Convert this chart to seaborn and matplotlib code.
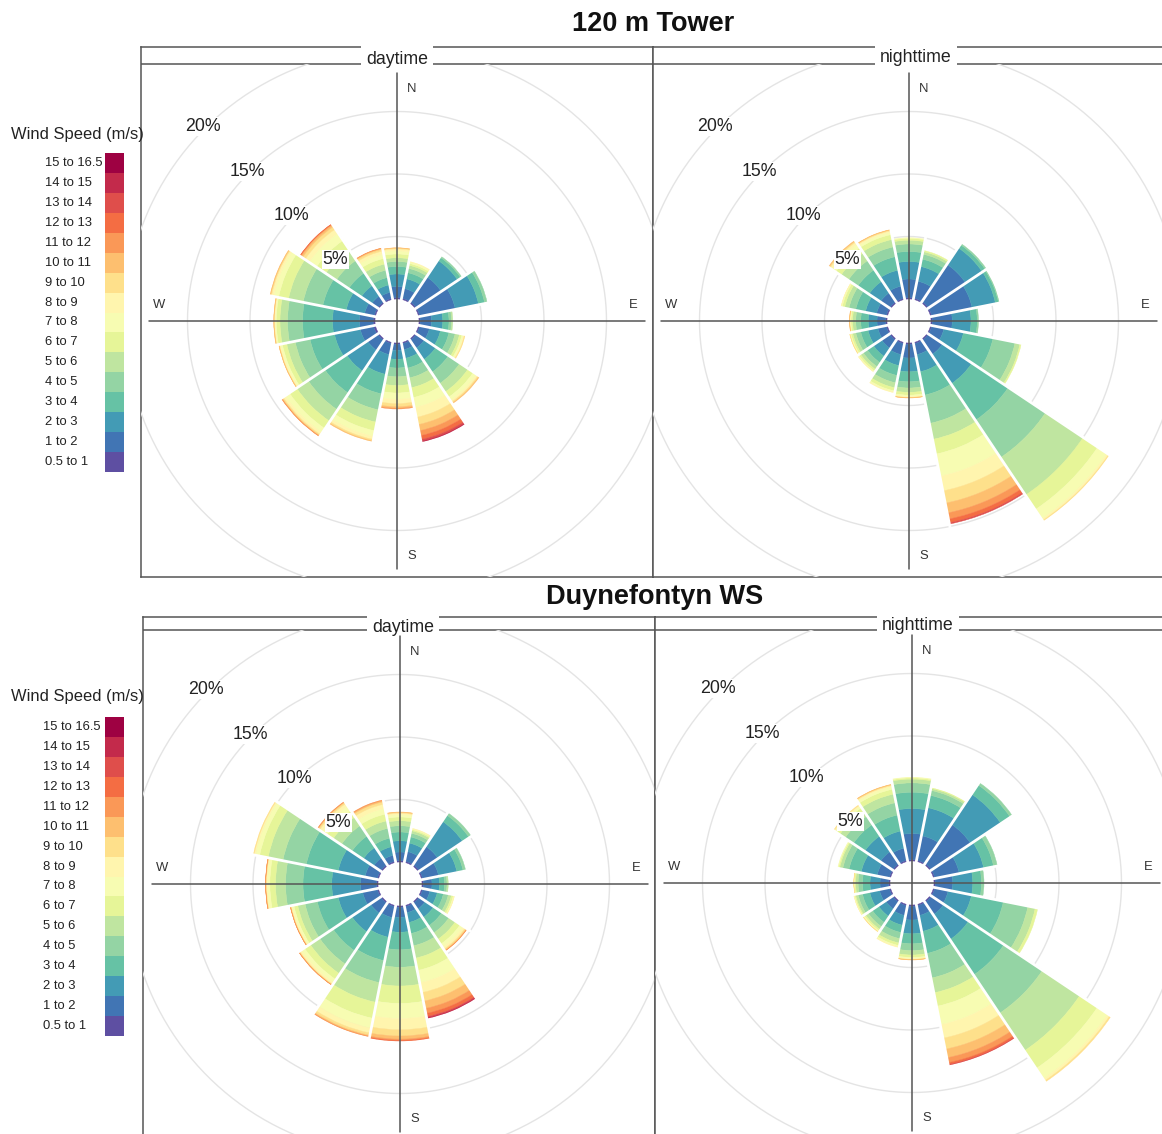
import numpy as np
import pandas as pd
import matplotlib
matplotlib.use("Agg")
import matplotlib.pyplot as plt
import seaborn as sns
from matplotlib import font_manager
from matplotlib.colors import ListedColormap
from matplotlib.patches import Rectangle

# speed classes (legend) and wind directions
speed_bins = ["0.5 to 1", "1 to 2", "2 to 3", "3 to 4", "4 to 5", "5 to 6", "6 to 7",
              "7 to 8", "8 to 9", "9 to 10", "10 to 11", "11 to 12", "12 to 13",
              "13 to 14", "14 to 15", "15 to 16.5"]
directions = ["N", "NNE", "NE", "ENE", "E", "ESE", "SE", "SSE",
              "S", "SSW", "SW", "WSW", "W", "WNW", "NW", "NNW"]

# frequency (%) per direction, per speed class
tower_day = [
    [0.1, 0.9, 1.0, 0.6, 0.4, 0.3, 0.3, 0.25, 0.15, 0.07, 0.03],
    [0.1, 0.8, 0.8, 0.5, 0.35, 0.25, 0.15, 0.1, 0.05],
    [0.1, 2.4, 1.6, 0.3, 0.1],
    [0.1, 2.9, 1.9, 0.5, 0.2],
    [0.1, 0.9, 0.9, 0.5, 0.2, 0.1],
    [0.1, 0.8, 0.9, 0.7, 0.5, 0.35, 0.2, 0.12, 0.08, 0.05],
    [0.1, 0.8, 1.1, 1.2, 1.1, 0.8, 0.5, 0.3, 0.15, 0.1, 0.05],
    [0.1, 0.5, 0.7, 0.8, 0.8, 0.8, 0.8, 0.8, 0.8, 0.6, 0.5, 0.4, 0.3, 0.15, 0.05],
    [0.1, 0.5, 0.7, 0.7, 0.7, 0.7, 0.6, 0.5, 0.35, 0.25, 0.12, 0.06],
    [0.1, 0.9, 1.6, 1.6, 1.3, 1.0, 0.7, 0.45, 0.25, 0.12, 0.05],
    [0.1, 1.0, 2.0, 2.1, 1.6, 1.1, 0.7, 0.4, 0.2, 0.1, 0.05, 0.03],
    [0.15, 1.1, 2.1, 2.0, 1.2, 0.7, 0.35, 0.15, 0.08, 0.04, 0.02],
    [0.15, 1.1, 2.15, 2.4, 1.2, 0.6, 0.3, 0.1, 0.05, 0.03, 0.02],
    [0.1, 0.8, 1.5, 1.9, 1.6, 1.2, 0.8, 0.4, 0.18, 0.08, 0.04],
    [0.1, 0.6, 1.0, 1.2, 1.2, 1.0, 0.9, 0.7, 0.4, 0.25, 0.15, 0.07, 0.03],
    [0.1, 0.5, 0.6, 0.6, 0.6, 0.5, 0.45, 0.35, 0.25, 0.15, 0.07, 0.03],
]
tower_night = [
    [0.1, 1.5, 1.4, 0.8, 0.6, 0.3, 0.15, 0.05],
    [0.1, 1.4, 1.2, 0.6, 0.4, 0.2, 0.1],
    [0.1, 3.6, 1.6, 0.3, 0.1],
    [0.1, 3.3, 1.9, 0.25, 0.05],
    [0.1, 1.6, 1.5, 0.5, 0.1],
    [0.1, 1.0, 1.6, 2.4, 1.8, 0.4, 0.1],
    [0.1, 1.4, 2.8, 3.5, 3.6, 3.6, 1.4, 0.9, 0.15, 0.05],
    [0.1, 0.9, 1.4, 1.9, 2.3, 1.3, 1.2, 1.8, 1.2, 1.0, 0.8, 0.5, 0.3, 0.1],
    [0.1, 1.1, 1.1, 0.8, 0.5, 0.35, 0.22, 0.12, 0.06, 0.03, 0.02],
    [0.1, 0.9, 0.9, 0.8, 0.6, 0.4, 0.25, 0.1, 0.05],
    [0.1, 0.8, 0.8, 0.6, 0.4, 0.25, 0.15, 0.07, 0.03],
    [0.1, 0.7, 0.8, 0.6, 0.4, 0.25, 0.14, 0.06, 0.03, 0.02],
    [0.1, 0.7, 0.7, 0.6, 0.4, 0.25, 0.13, 0.06, 0.03, 0.02, 0.01],
    [0.1, 0.8, 0.9, 0.8, 0.55, 0.35, 0.2, 0.07, 0.03],
    [0.1, 0.9, 1.1, 1.1, 0.9, 0.7, 0.5, 0.35, 0.2, 0.1, 0.05],
    [0.1, 1.0, 1.3, 1.1, 0.8, 0.6, 0.4, 0.2, 0.1, 0.07, 0.03],
]
ws_day = [
    [0.1, 0.7, 0.9, 0.7, 0.5, 0.4, 0.3, 0.2, 0.1, 0.07, 0.03],
    [0.1, 0.8, 0.7, 0.5, 0.3, 0.2, 0.1, 0.05, 0.05],
    [0.1, 1.8, 2.4, 0.6, 0.2],
    [0.1, 1.3, 1.5, 0.5, 0.2],
    [0.1, 0.7, 0.6, 0.4, 0.2, 0.1],
    [0.1, 0.6, 0.6, 0.5, 0.4, 0.25, 0.15, 0.07, 0.03],
    [0.1, 0.6, 0.8, 0.8, 0.7, 0.6, 0.45, 0.3, 0.18, 0.1, 0.05, 0.02],
    [0.1, 0.5, 0.8, 0.9, 1.0, 1.0, 1.0, 1.0, 0.8, 0.7, 0.6, 0.4, 0.25, 0.1, 0.05],
    [0.1, 0.8, 1.2, 1.4, 1.4, 1.5, 1.4, 1.2, 0.9, 0.5, 0.25, 0.1, 0.05],
    [0.1, 0.9, 1.6, 1.9, 1.8, 1.6, 1.3, 0.8, 0.4, 0.18, 0.08, 0.04],
    [0.1, 1.0, 1.8, 1.8, 1.3, 0.9, 0.55, 0.3, 0.15, 0.06, 0.03, 0.01],
    [0.1, 1.2, 2.0, 1.7, 1.0, 0.6, 0.3, 0.15, 0.08, 0.04, 0.02, 0.01],
    [0.1, 1.3, 2.3, 2.3, 1.4, 0.8, 0.45, 0.2, 0.08, 0.04, 0.02, 0.01],
    [0.1, 1.0, 2.2, 2.6, 1.9, 1.2, 0.7, 0.35, 0.1, 0.05],
    [0.1, 0.7, 1.0, 1.1, 1.0, 0.8, 0.6, 0.45, 0.25, 0.12, 0.05, 0.03],
    [0.1, 0.5, 0.7, 0.7, 0.8, 0.6, 0.55, 0.45, 0.35, 0.2, 0.1, 0.05],
]
ws_night = [
    [0.1, 2.1, 2.0, 1.3, 0.75, 0.3, 0.1, 0.05],
    [0.1, 2.0, 2.3, 1.0, 0.4, 0.15, 0.05],
    [0.1, 3.8, 2.9, 0.9, 0.2],
    [0.1, 2.0, 2.0, 0.8, 0.3],
    [0.1, 1.4, 1.6, 0.7, 0.2],
    [0.1, 1.1, 1.9, 2.6, 2.0, 0.6, 0.2],
    [0.1, 1.2, 2.4, 3.4, 3.7, 3.6, 1.7, 1.0, 0.2, 0.1],
    [0.1, 0.8, 1.3, 1.8, 2.0, 1.2, 1.1, 1.5, 1.1, 0.9, 0.7, 0.4, 0.15, 0.05],
    [0.1, 1.1, 1.1, 0.8, 0.55, 0.35, 0.2, 0.1, 0.05, 0.03, 0.02],
    [0.1, 0.8, 0.8, 0.6, 0.5, 0.35, 0.2, 0.1, 0.05],
    [0.1, 0.7, 0.7, 0.6, 0.4, 0.25, 0.13, 0.07, 0.03, 0.02],
    [0.1, 0.8, 0.8, 0.6, 0.35, 0.2, 0.09, 0.04, 0.02],
    [0.1, 0.7, 0.8, 0.6, 0.35, 0.2, 0.1, 0.03, 0.01, 0.01],
    [0.1, 1.0, 1.3, 1.0, 0.5, 0.25, 0.1, 0.05],
    [0.1, 1.2, 1.5, 1.1, 0.8, 0.5, 0.3, 0.15, 0.1, 0.05],
    [0.1, 1.0, 1.4, 1.3, 1.0, 0.7, 0.4, 0.2, 0.1, 0.07, 0.03],
]
grid_pct = [5, 10, 15, 20]

sns.set_style("white")
names = {f.name for f in font_manager.fontManager.ttflist}
narrow = "Liberation Sans Narrow" in names
FONT = "Liberation Sans Narrow" if narrow else "Liberation Sans"
FS = 1.0 if narrow else 0.85   # shrink when no condensed face exists
plt.rcParams["font.family"] = [FONT, "DejaVu Sans"]

# full Spectral ramp, purple -> dark red
spectral = sns.color_palette("Spectral_r", as_cmap=True)
colors = [spectral(x) for x in np.linspace(0, 1, len(speed_bins))]

W, H = 1162, 1134
fig = plt.figure(figsize=(W / 100, H / 100), dpi=100)

PX = 12.5           # pixels per percent
OFFSET = 22 / PX    # size of the hole
R = 420             # polar axes radius, px
LINE = "#555555"


def fig_rect(x0, y0, x1, y1):
    return [x0 / W, 1 - y1 / H, (x1 - x0) / W, (y1 - y0) / H]


def rose(box, strip_y, center, label, label_xy, rows):
    x0, y0, x1, y1 = box
    frame = fig.add_axes(fig_rect(*box))
    frame.set_xlim(x0, x1)
    frame.set_ylim(y1, y0)
    frame.set_xticks([])
    frame.set_yticks([])
    for s in frame.spines.values():
        s.set_color(LINE)
        s.set_linewidth(1.1)
    frame.axhline(strip_y, color=LINE, lw=1.1)
    frame.text(label_xy[0], label_xy[1], label, ha="center", va="center", fontsize=15 * FS,
               color="#222222", bbox=dict(fc="white", ec="none", pad=4))
    clip = Rectangle((x0, strip_y), x1 - x0, y1 - strip_y, transform=frame.transData)

    cx, cy = center
    ax = fig.add_axes(fig_rect(cx - R, cy - R, cx + R, cy + R), projection="polar")
    ax.set_theta_zero_location("N")
    ax.set_theta_direction(-1)
    ax.set_ylim(0, R / PX)
    ax.set_axis_off()

    df = pd.DataFrame([r + [0.0] * (len(speed_bins) - len(r)) for r in rows],
                      index=directions, columns=speed_bins)
    theta = np.deg2rad(np.arange(len(directions)) * 22.5)
    width = np.deg2rad(22.5)
    arts = []

    ring = np.linspace(0, 2 * np.pi, 361)
    for p in grid_pct:
        arts += ax.plot(ring, np.full_like(ring, OFFSET + p), color="#e4e4e4", lw=1.0, zorder=1)

    bottom = np.full(len(directions), OFFSET)
    for j, col in enumerate(speed_bins):
        h = df[col].to_numpy()
        m = h > 0
        if m.any():
            bars = ax.bar(theta[m], h[m], width=width, bottom=bottom[m], color=colors[j],
                          edgecolor=colors[j], linewidth=0.3, zorder=2)
            arts += list(bars)
        bottom = bottom + h

    totals = df.sum(axis=1).to_numpy()
    for k in range(len(directions)):
        reach = max(totals[k], totals[(k + 1) % len(directions)]) + OFFSET + 0.3
        a = theta[k] + width / 2
        arts += ax.plot([a, a], [0, reach], color="white", lw=2.0, zorder=3)

    L = 248 / PX
    for a in [0, np.pi / 2, np.pi, 3 * np.pi / 2]:
        arts += ax.plot([a, a], [0, L], color=LINE, lw=1.1, zorder=4)

    for a in arts:
        a.set_clip_path(clip)

    comp = [("N", 0, 232, (15, 0)), ("S", np.pi, 235, (15, 0)),
            ("E", np.pi / 2, 236, (0, 16)), ("W", 3 * np.pi / 2, 238, (0, 16))]
    for txt, a, rp, off in comp:
        ax.annotate(txt, xy=(a, rp / PX), xytext=off, textcoords="offset pixels",
                    ha="center", va="center", fontsize=11 * FS, color="#333333")

    for p in grid_pct:
        ax.text(np.deg2rad(315), OFFSET + p + 0.2, f"{p}%", ha="center", va="center",
                fontsize=15 * FS, color="#222222", zorder=6,
                bbox=dict(fc="white", ec="none", pad=0.8))


def legend(top, title_y, label_x):
    lax = fig.add_axes(fig_rect(105, top, 124, top + 319))
    vals = np.arange(len(speed_bins))[::-1].reshape(-1, 1)
    sns.heatmap(vals, cmap=ListedColormap(colors), cbar=False, ax=lax,
                xticklabels=False, yticklabels=speed_bins[::-1])
    lax.tick_params(axis="y", length=0, pad=(105 - label_x) * 0.72, labelsize=11 * FS)
    for t in lax.get_yticklabels():
        t.set_ha("left")
        t.set_rotation(0)
        t.set_color("#222222")
    fig.text(11 / W, 1 - title_y / H, "Wind Speed (m/s)", ha="left", va="center",
             fontsize=14 * FS, color="#222222")


rose((141, 47, 653, 577), 64, (397, 321), "daytime", (397, 60), tower_day)
rose((653, 47, 1175, 577), 64, (909, 321), "nighttime", (916, 58), tower_night)
rose((143, 617, 655, 1150), 630, (400, 884), "daytime", (403, 627), ws_day)
rose((655, 617, 1175, 1150), 630, (912, 883), "nighttime", (918, 625), ws_night)

legend(153, 135, 45)
legend(717, 697, 43)

fig.text(653 / W, 1 - 24 / H, "120 m Tower", ha="center", va="center", fontsize=23 * FS,
         fontweight="bold", color="#111111")
fig.text(655 / W, 1 - 597 / H, "Duynefontyn WS", ha="center", va="center", fontsize=23 * FS,
         fontweight="bold", color="#111111", bbox=dict(fc="white", ec="none", pad=2))

fig.savefig("out.png", dpi=100)
